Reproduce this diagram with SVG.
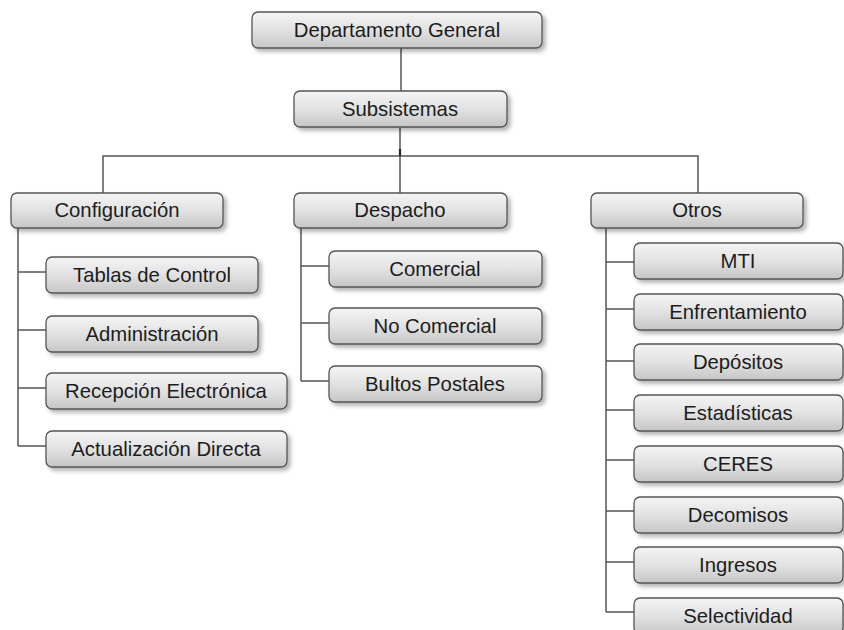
<svg xmlns="http://www.w3.org/2000/svg" width="844" height="630" viewBox="0 0 844 630">
  <defs>
    <linearGradient id="boxFill" x1="0" y1="0" x2="0" y2="1">
      <stop offset="0" stop-color="#f4f4f4"/>
      <stop offset="0.5" stop-color="#e2e2e2"/>
      <stop offset="1" stop-color="#c6c6c6"/>
    </linearGradient>
    <filter id="shadow" x="-10%" y="-20%" width="125%" height="160%">
      <feDropShadow dx="3" dy="3" stdDeviation="2" flood-color="#000" flood-opacity="0.3"/>
    </filter>
  </defs>
  <style>
    .box { fill: url(#boxFill); stroke: #555; stroke-width: 1.3; filter: url(#shadow); }
    .lbl { font-family: "Liberation Sans", Arial, sans-serif; font-size: 20.3px; fill: #1c1c1c; text-anchor: middle; }
    .wire { fill: none; stroke: #555; stroke-width: 1.5; }
  </style>
  <rect width="844" height="630" fill="#fff"/>

  <!-- connectors -->
  <g id="connectors" class="wire">
    <path d="M401 48 V91"/>
    <path d="M400 127 V193"/>
    <path d="M103 193 V156 H698 V193"/>
    <!-- Configuración branch -->
    <path d="M18 228 V446"/>
    <path d="M18 272 H46 M18 330 H46 M18 388 H46 M18 446 H46"/>
    <!-- Despacho branch -->
    <path d="M301 228 V381"/>
    <path d="M301 266 H329 M301 323 H329 M301 381 H329"/>
    <!-- Otros branch -->
    <path d="M606 228 V612"/>
    <path d="M606 262 H634 M606 309 H634 M606 361 H634 M606 410 H634 M606 460 H634 M606 511 H634 M606 562 H634 M606 612 H634"/>
  </g>
  <path d="M400 149 V156" stroke="#222" stroke-width="2.2"/>

  <!-- top levels -->
  <g id="departamento-general">
    <rect class="box" x="252" y="12" width="290" height="36" rx="6"/>
    <text class="lbl" x="397" y="37">Departamento General</text>
  </g>
  <g id="subsistemas">
    <rect class="box" x="294" y="91" width="213" height="36" rx="6"/>
    <text class="lbl" x="400" y="116">Subsistemas</text>
  </g>

  <!-- second level -->
  <g id="configuracion">
    <rect class="box" x="11" y="193" width="212" height="35" rx="6"/>
    <text class="lbl" x="117" y="217">Configuración</text>
  </g>
  <g id="despacho">
    <rect class="box" x="294" y="193" width="213" height="35" rx="6"/>
    <text class="lbl" x="400" y="217">Despacho</text>
  </g>
  <g id="otros">
    <rect class="box" x="591" y="193" width="212" height="35" rx="6"/>
    <text class="lbl" x="697" y="217">Otros</text>
  </g>

  <!-- Configuración children -->
  <g id="tablas-de-control">
    <rect class="box" x="46" y="257" width="212" height="36" rx="6"/>
    <text class="lbl" x="152" y="282">Tablas de Control</text>
  </g>
  <g id="administracion">
    <rect class="box" x="46" y="316" width="212" height="36" rx="6"/>
    <text class="lbl" x="152" y="341">Administración</text>
  </g>
  <g id="recepcion-electronica">
    <rect class="box" x="46" y="373" width="241" height="36" rx="6"/>
    <text class="lbl" x="166" y="398">Recepción Electrónica</text>
  </g>
  <g id="actualizacion-directa">
    <rect class="box" x="46" y="431" width="241" height="36" rx="6"/>
    <text class="lbl" x="166" y="456">Actualización Directa</text>
  </g>

  <!-- Despacho children -->
  <g id="comercial">
    <rect class="box" x="329" y="251" width="213" height="36" rx="6"/>
    <text class="lbl" x="435" y="276">Comercial</text>
  </g>
  <g id="no-comercial">
    <rect class="box" x="329" y="308" width="213" height="36" rx="6"/>
    <text class="lbl" x="435" y="333">No Comercial</text>
  </g>
  <g id="bultos-postales">
    <rect class="box" x="329" y="366" width="213" height="36" rx="6"/>
    <text class="lbl" x="435" y="391">Bultos Postales</text>
  </g>

  <!-- Otros children -->
  <g id="mti">
    <rect class="box" x="634" y="243" width="209" height="36" rx="6"/>
    <text class="lbl" x="738" y="268">MTI</text>
  </g>
  <g id="enfrentamiento">
    <rect class="box" x="634" y="294" width="209" height="36" rx="6"/>
    <text class="lbl" x="738" y="319">Enfrentamiento</text>
  </g>
  <g id="depositos">
    <rect class="box" x="634" y="344" width="209" height="36" rx="6"/>
    <text class="lbl" x="738" y="369">Depósitos</text>
  </g>
  <g id="estadisticas">
    <rect class="box" x="634" y="395" width="209" height="36" rx="6"/>
    <text class="lbl" x="738" y="420">Estadísticas</text>
  </g>
  <g id="ceres">
    <rect class="box" x="634" y="446" width="209" height="36" rx="6"/>
    <text class="lbl" x="738" y="471">CERES</text>
  </g>
  <g id="decomisos">
    <rect class="box" x="634" y="497" width="209" height="36" rx="6"/>
    <text class="lbl" x="738" y="522">Decomisos</text>
  </g>
  <g id="ingresos">
    <rect class="box" x="634" y="547" width="209" height="36" rx="6"/>
    <text class="lbl" x="738" y="572">Ingresos</text>
  </g>
  <g id="selectividad">
    <rect class="box" x="634" y="598" width="209" height="36" rx="6"/>
    <text class="lbl" x="738" y="623">Selectividad</text>
  </g>
</svg>
